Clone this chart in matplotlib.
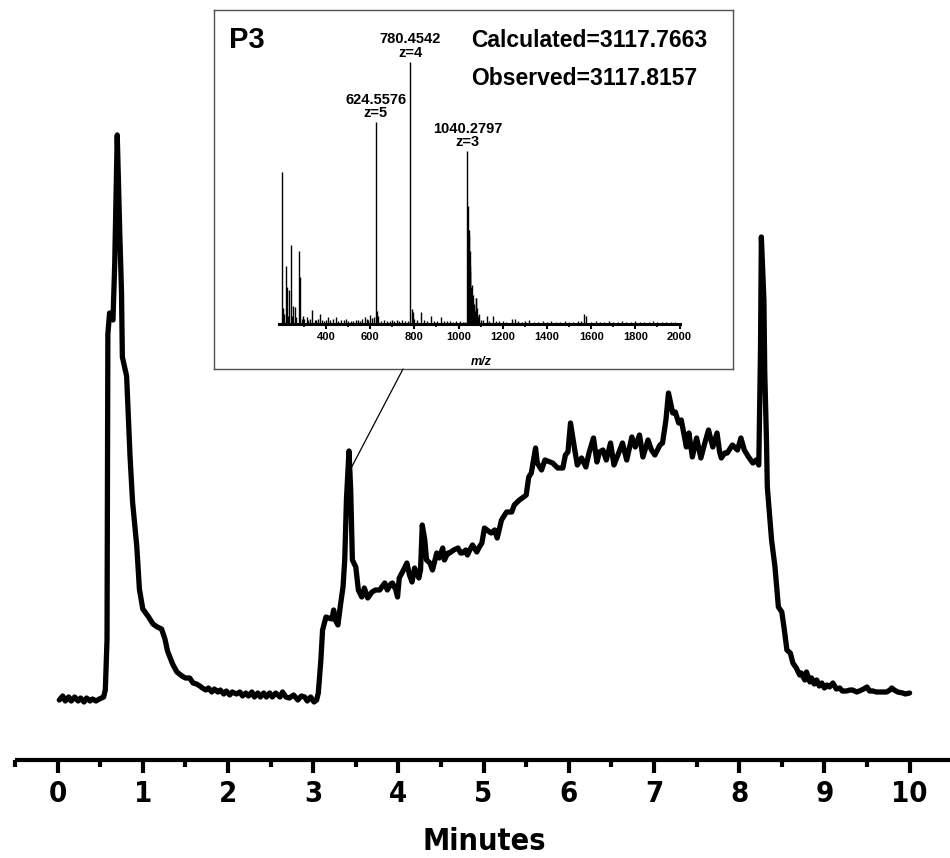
import numpy as np
import matplotlib
matplotlib.use("Agg")
import matplotlib.pyplot as plt
from matplotlib import font_manager as fm
from matplotlib.patches import ConnectionPatch
from matplotlib.ticker import FixedLocator

# ---------------- data: chromatogram (time in minutes, signal in arbitrary units)
time_min = [0.02, 0.06, 0.09, 0.13, 0.16, 0.20, 0.24, 0.27, 0.31, 0.34, 0.38, 0.41, 0.45, 0.49, 0.54, 0.56,
            0.58, 0.59, 0.61, 0.63, 0.65, 0.67, 0.70, 0.73, 0.75, 0.76, 0.81, 0.85, 0.88, 0.93, 0.96, 1.00,
            1.06, 1.12, 1.17, 1.22, 1.26, 1.29, 1.35, 1.40, 1.46, 1.50, 1.55, 1.59, 1.63, 1.67, 1.70, 1.74,
            1.77, 1.81, 1.84, 1.88, 1.91, 1.95, 1.98, 2.02, 2.05, 2.10, 2.14, 2.17, 2.21, 2.24, 2.28, 2.31,
            2.35, 2.38, 2.42, 2.45, 2.49, 2.52, 2.56, 2.61, 2.64, 2.68, 2.72, 2.77, 2.82, 2.86, 2.90, 2.93,
            2.97, 3.01, 3.04, 3.06, 3.09, 3.11, 3.15, 3.18, 3.22, 3.24, 3.26, 3.29, 3.32, 3.35, 3.37, 3.39,
            3.42, 3.44, 3.46, 3.50, 3.53, 3.57, 3.60, 3.64, 3.69, 3.73, 3.78, 3.84, 3.87, 3.91, 3.93, 3.97,
            3.99, 4.01, 4.06, 4.10, 4.13, 4.16, 4.19, 4.24, 4.26, 4.28, 4.31, 4.33, 4.37, 4.40, 4.45, 4.48,
            4.52, 4.54, 4.58, 4.60, 4.65, 4.70, 4.73, 4.75, 4.79, 4.81, 4.85, 4.87, 4.92, 4.95, 4.98, 5.01,
            5.04, 5.07, 5.09, 5.13, 5.16, 5.21, 5.27, 5.31, 5.33, 5.36, 5.42, 5.47, 5.50, 5.53, 5.56, 5.61,
            5.63, 5.68, 5.72, 5.78, 5.81, 5.87, 5.93, 5.96, 5.99, 6.02, 6.07, 6.10, 6.15, 6.20, 6.24, 6.29,
            6.33, 6.36, 6.40, 6.44, 6.49, 6.53, 6.59, 6.63, 6.68, 6.74, 6.78, 6.83, 6.87, 6.93, 6.97, 7.01,
            7.07, 7.10, 7.14, 7.17, 7.22, 7.25, 7.29, 7.32, 7.38, 7.41, 7.45, 7.50, 7.55, 7.59, 7.64, 7.69,
            7.74, 7.77, 7.79, 7.83, 7.86, 7.92, 7.98, 8.02, 8.06, 8.11, 8.16, 8.20, 8.23, 8.25, 8.26, 8.29,
            8.30, 8.32, 8.33, 8.38, 8.42, 8.46, 8.50, 8.53, 8.56, 8.60, 8.63, 8.67, 8.71, 8.73, 8.77, 8.79,
            8.83, 8.85, 8.88, 8.91, 8.94, 8.97, 9.00, 9.03, 9.06, 9.10, 9.14, 9.18, 9.21, 9.26, 9.30, 9.33,
            9.38, 9.41, 9.46, 9.50, 9.53, 9.57, 9.61, 9.65, 9.70, 9.73, 9.77, 9.79, 9.82, 9.86, 9.92, 9.95,
            10.00]
signal = [5, 9, 4, 8, 4, 8, 4, 7, 3, 7, 4, 6, 4, 6, 8, 15,
          65, 371, 392, 387, 385, 440, 570, 471, 413, 348, 329, 249, 203, 158, 116, 96,
          89, 81, 78, 76, 66, 54, 41, 33, 29, 27, 27, 22, 21, 19, 17, 15,
          17, 13, 16, 13, 15, 11, 14, 10, 13, 11, 13, 9, 12, 9, 13, 8,
          12, 8, 12, 8, 12, 8, 12, 8, 13, 8, 7, 10, 5, 9, 8, 4,
          8, 3, 5, 12, 45, 75, 88, 87, 86, 95, 85, 80, 100, 118, 145, 205,
          254, 215, 145, 138, 115, 108, 117, 107, 113, 115, 115, 122, 115, 121, 122, 115,
          108, 127, 135, 142, 130, 123, 137, 127, 135, 180, 165, 145, 142, 135, 152, 147,
          157, 145, 152, 152, 155, 157, 152, 152, 155, 150, 157, 160, 153, 158, 162, 177,
          175, 173, 172, 175, 167, 185, 193, 193, 193, 200, 205, 208, 210, 228, 232, 257,
          242, 235, 245, 243, 242, 237, 237, 250, 253, 282, 255, 240, 247, 238, 253, 267,
          243, 253, 255, 245, 262, 240, 253, 262, 245, 268, 258, 270, 248, 265, 255, 250,
          260, 262, 285, 312, 292, 293, 282, 285, 258, 272, 248, 267, 247, 260, 275, 258,
          272, 253, 247, 252, 252, 260, 255, 267, 255, 248, 242, 245, 240, 355, 468, 405,
          332, 265, 218, 165, 138, 98, 93, 75, 55, 52, 42, 37, 30, 32, 25, 33,
          23, 27, 21, 25, 19, 22, 17, 20, 18, 22, 16, 17, 14, 14, 15, 15,
          13, 14, 16, 18, 14, 14, 13, 13, 13, 13, 15, 17, 15, 13, 12, 11,
          12]
assert len(time_min) == len(signal)

major_ticks = list(range(0, 11))
tick_labels = [str(v) for v in major_ticks]
x_label = "Minutes"
p3_time = 3.43   # retention time the inset refers to

# ---------------- data: inset mass spectrum (m/z, relative intensity %)
ms_mz = [202.3, 207, 217.4, 222, 234, 240, 252, 260, 279, 284, 294, 312, 335, 373, 410, 445, 501, 524,
         561, 576, 599, 624.5576, 629, 637, 700, 742, 780.4542, 787, 795, 830, 875, 919,
         1040.2797, 1042, 1044, 1046, 1048, 1050, 1052, 1054, 1056, 1058, 1060, 1062, 1064, 1066, 1068,
         1070, 1072, 1075, 1078, 1081, 1084, 1088, 1093, 1127, 1157, 1240, 1255, 1320, 1567, 1579]
ms_int = [58, 6, 22, 14, 13, 30, 7, 6.5, 28, 18, 3, 2.5, 5.3, 3.8, 2.5, 2.5, 1.3, 1.3,
          2, 2.8, 3.4, 77, 5, 3, 1.5, 1.5, 100, 5.6, 4.5, 4.5, 3, 2.5,
          66, 45, 36, 36, 34, 28, 22, 20, 14, 12, 15, 9, 8, 11, 6,
          5, 7.6, 5, 10, 10, 6, 3, 3.8, 3, 3, 2, 2, 1.5, 3.8, 3]
grass_mz = [212, 226, 246, 266, 290, 300, 318, 326, 348, 356, 366, 382, 392, 402, 420, 430, 456, 470,
            482, 492, 512, 534, 546, 552, 584, 592, 606, 616, 650, 662, 676, 688, 710, 722, 730, 756,
            770, 800, 812, 842, 856, 890, 902, 932, 946, 960, 975, 990, 1005, 1020, 1030, 1100, 1112,
            1140, 1170, 1185, 1200, 1215, 1270, 1285, 1300, 1340, 1360, 1380, 1400, 1420, 1440, 1460,
            1480, 1500, 1520, 1540, 1555, 1600, 1620, 1640, 1660, 1680, 1700, 1720, 1740, 1760, 1780,
            1800, 1820, 1840, 1860, 1880, 1900, 1920, 1940, 1960, 1980]
grass_int = [4, 3, 3, 2.5, 2, 1.8, 1.5, 2, 1.6, 1.4, 1.8, 1.5, 1.2, 1.6, 1.4, 1.8, 1.2, 1.5,
             1.4, 1.8, 1.2, 1.5, 1.6, 1.3, 1.8, 1.5, 2.2, 2.5, 1.2, 1.4, 1.0, 1.3, 1.1, 1.4, 1.0, 1.2,
             1.3, 2.0, 1.6, 1.4, 1.2, 1.3, 1.0, 1.2, 1.0, 1.1, 0.9, 1.0, 1.0, 0.8, 0.9, 1.6, 1.4,
             1.2, 1.1, 1.2, 1.0, 0.9, 1.0, 0.9, 1.0, 0.8, 0.9, 1.0, 0.8, 1.0, 0.9, 0.8,
             1.0, 0.8, 0.9, 1.0, 1.2, 0.9, 1.0, 0.8, 0.9, 1.0, 0.8, 0.9, 1.0, 0.8, 0.9,
             1.0, 0.8, 0.9, 0.8, 1.0, 0.8, 0.9, 0.8, 0.9, 0.8]
assert len(ms_mz) == len(ms_int) and len(grass_mz) == len(grass_int)
ms_labels = [(624.5576, 5), (780.4542, 4), (1040.2797, 3)]
ms_ticks = [400, 600, 800, 1000, 1200, 1400, 1600, 1800, 2000]
peptide_name = "P3"
calc_text = "Calculated=3117.7663"
obs_text = "Observed=3117.8157"


# ---------------- fonts
def has_font(name):
    try:
        fm.findfont(fm.FontProperties(family=name), fallback_to_default=False)
        return True
    except Exception:
        return False

narrow = "Liberation Sans Narrow" if has_font("Liberation Sans Narrow") else "DejaVu Sans"
arial = "Liberation Sans" if has_font("Liberation Sans") else "DejaVu Sans"
narrow_kw = dict(family=narrow, weight="bold")
if narrow == "DejaVu Sans":
    narrow_kw["stretch"] = "condensed"

W, H = 950, 858
fig = plt.figure(figsize=(W / 100, H / 100), dpi=100)

def fx(px):
    return px / W

def fy(py):
    return 1 - py / H

# ---------------- main chromatogram axes
ax = fig.add_axes([fx(15), fy(760), fx(935), 760 / H])
ax.plot(time_min, signal, color="black", lw=3.8, solid_joinstyle="round", solid_capstyle="round")
ax.set_xlim(-0.5, -0.5 + 935 / 85.2)
ax.set_ylim(-55, 705)
for s in ("left", "right", "top"):
    ax.spines[s].set_visible(False)
ax.spines["bottom"].set_linewidth(3.0)
ax.spines["bottom"].set_capstyle("butt")
ax.set_yticks([])
ax.xaxis.set_major_locator(FixedLocator(major_ticks))
ax.xaxis.set_minor_locator(FixedLocator(np.arange(-0.5, 10.6, 1.0)))
ax.set_xticklabels(tick_labels)
ax.tick_params(axis="x", which="major", direction="out", length=9.5, width=3.0, pad=5)
ax.tick_params(axis="x", which="minor", direction="out", length=5.0, width=3.0)
for lab in ax.get_xticklabels():
    lab.set_fontproperties(fm.FontProperties(size=21, **narrow_kw))
ax.patch.set_alpha(0)
fig.text(fx(484), fy(842), x_label, ha="center", va="center",
         fontproperties=fm.FontProperties(size=22, **narrow_kw))

# ---------------- inset frame
box = fig.add_axes([fx(214), fy(369), fx(519), 359 / H])
box.set_xticks([])
box.set_yticks([])
for s in box.spines.values():
    s.set_color("#505050")
    s.set_linewidth(1.0)
box.set_facecolor("white")
box.text(0.029, 0.916, peptide_name, transform=box.transAxes, ha="left", va="center",
         fontsize=21, fontweight="bold", family=arial)
box.text(0.495, 0.916, calc_text, transform=box.transAxes, ha="left", va="center",
         fontsize=16.5, fontweight="bold", family=arial)
box.text(0.495, 0.808, obs_text, transform=box.transAxes, ha="left", va="center",
         fontsize=16.5, fontweight="bold", family=arial)
box.text(0.514, 0.02, "m/z", transform=box.transAxes, ha="center", va="center",
         fontsize=9, fontweight="bold", style="italic", family=arial)

# ---------------- inset spectrum
sp = fig.add_axes([fx(278.5), fy(324), fx(401), 262 / H])
sp.patch.set_alpha(0)
sp.vlines(grass_mz, 0, grass_int, color="black", lw=1.0)
sp.vlines(ms_mz, 0, ms_int, color="black", lw=1.0)
sp.set_xlim(185, 2000)
sp.set_ylim(0, 100)
for s in ("left", "right", "top"):
    sp.spines[s].set_visible(False)
sp.spines["bottom"].set_linewidth(2.2)
sp.set_yticks([])
sp.xaxis.set_major_locator(FixedLocator(ms_ticks))
sp.xaxis.set_minor_locator(FixedLocator(list(range(300, 2000, 200))))
sp.tick_params(axis="x", which="major", direction="out", length=3.5, width=1.5, pad=2)
sp.tick_params(axis="x", which="minor", direction="out", length=2.0, width=1.2)
for lab in sp.get_xticklabels():
    lab.set_fontsize(8)
    lab.set_fontweight("bold")
    lab.set_family(arial)
for mz, z in ms_labels:
    h = ms_int[ms_mz.index(mz)]
    sp.annotate(f"{mz:.4f}\nz={z}", xy=(mz, h), xytext=(0, 1.5), textcoords="offset points",
                ha="center", va="bottom", fontsize=10.5, fontweight="bold", family=arial,
                linespacing=0.95, annotation_clip=False)

# ---------------- connector from inset to the P3 peak
con = ConnectionPatch(xyA=(fx(403), fy(369)), coordsA=fig.transFigure,
                      xyB=(p3_time, float(np.interp(p3_time, time_min, signal))), coordsB=ax.transData,
                      color="black", lw=0.9)
fig.add_artist(con)

fig.savefig("out.png", dpi=100)
